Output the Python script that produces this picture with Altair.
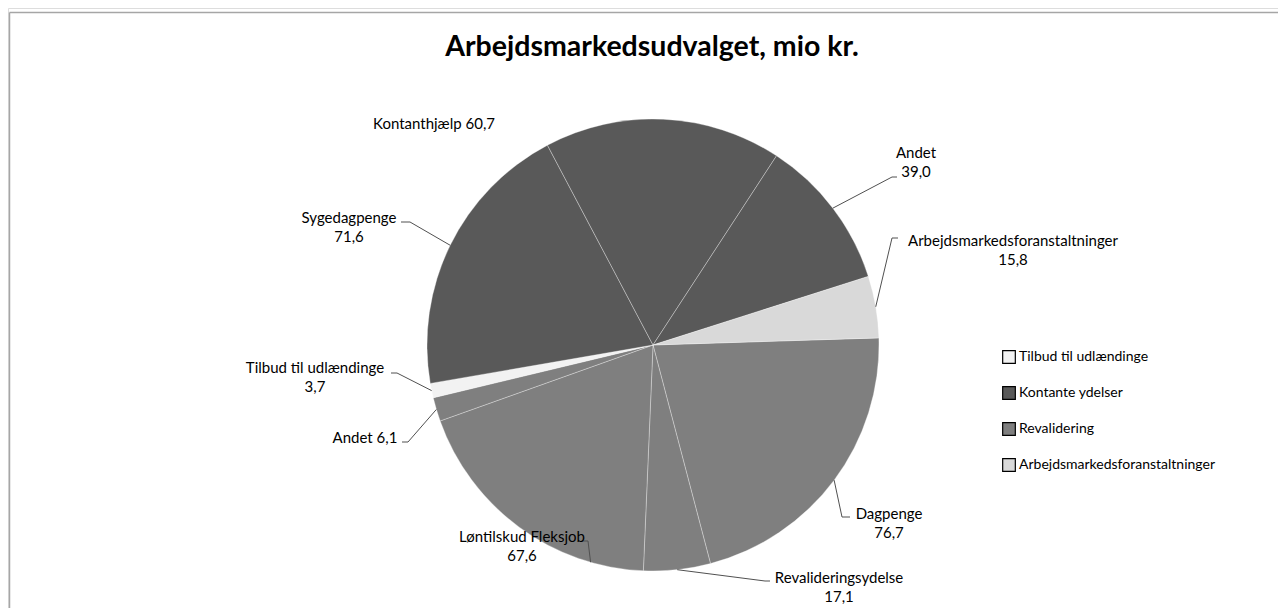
import math
import altair as alt
import pandas as pd

# ---------------- data ----------------
slice_ids = ["dagpenge", "revalid", "lontilskud", "andet_rev", "tilbud",
             "sygedagpenge", "kontanthjaelp", "andet_kont", "arbejds"]
names = ["Dagpenge", "Revalideringsydelse", "Løntilskud Fleksjob", "Andet",
         "Tilbud til udlændinge", "Sygedagpenge", "Kontanthjælp", "Andet",
         "Arbejdsmarkedsforanstaltninger"]
values = [76.7, 17.1, 67.6, 6.1, 3.7, 71.6, 60.7, 39.0, 15.8]
groups = ["Revalidering", "Revalidering", "Revalidering", "Revalidering",
          "Tilbud til udlændinge", "Kontante ydelser", "Kontante ydelser",
          "Kontante ydelser", "Arbejdsmarkedsforanstaltninger"]

legend_order = ["Tilbud til udlændinge", "Kontante ydelser", "Revalidering",
                "Arbejdsmarkedsforanstaltninger"]
legend_colors = ["#f2f2f2", "#595959", "#7f7f7f", "#d9d9d9"]

TITLE = "Arbejdsmarkedsudvalget, mio kr."

# ---------------- layout ----------------
OFF = 8                      # page margin
CX, CY, R = 653 - OFF, 345 - OFF, 226
START = math.radians(88.2)   # angle where the first slice begins (clockwise from 12 o'clock)
FONT = "Lato"

# label layout in page pixels: text centre x, first-line centre y, two lines?,
# where on the slice edge the leader attaches (fraction of the slice), leader elbow/end
label_layout = {
    "dagpenge":      dict(x=889, y=514, two=True,  at=0.5,  leader=[(842, 517), (850, 517)]),
    "revalid":       dict(x=839, y=578, two=True,  at=0.5,  leader=[(765, 581), (770, 581)]),
    "lontilskud":    dict(x=522, y=537, two=True,  at=0.2,  leader=[(588, 541), (582, 541)]),
    "andet_rev":     dict(x=365, y=438, two=False, at=0.5,  leader=[(408, 442), (402, 442)]),
    "tilbud":        dict(x=315, y=368, two=True,  at=0.5,  leader=[(397, 373), (391, 373)]),
    "sygedagpenge":  dict(x=349, y=218, two=True,  at=0.5,  leader=[(410, 222), (401, 222)]),
    "kontanthjaelp": dict(x=434, y=124, two=False, at=0.5,  leader=None),
    "andet_kont":    dict(x=916, y=153, two=True,  at=0.5,  leader=[(892, 177), (897, 177)]),
    "arbejds":       dict(x=1013, y=241, two=True, at=0.5,  leader=[(892, 238), (898, 238)]),
}
LH = 19

def fmt(v):
    return f"{v:.1f}".replace(".", ",")

df = pd.DataFrame({"sid": slice_ids, "name": names, "value": values,
                   "group": groups, "idx": list(range(len(values)))})

total = sum(values)
cum = 0.0
text_rows, leader_rows = [], []
for sid, nm, v in zip(slice_ids, names, values):
    lay = label_layout[sid]
    ang = START + 2 * math.pi * (cum + v * lay["at"]) / total
    cum += v
    label = f"{nm}\n{fmt(v)}" if lay["two"] else f"{nm} {fmt(v)}"
    text_rows.append({"sid": sid, "label": label, "px": lay["x"] - OFF,
                      "py": lay["y"] - OFF})
    if lay["leader"]:
        sx = CX + R * math.sin(ang)
        sy = CY - R * math.cos(ang)
        pts = [(sx, sy)] + [(px - OFF, py - OFF) for px, py in lay["leader"]]
        for k, (px, py) in enumerate(pts):
            leader_rows.append({"sid": sid, "k": k, "px": px, "py": py})

text_df = pd.DataFrame(text_rows)
leader_df = pd.DataFrame(leader_rows)

# ---------------- chart ----------------
pie = alt.Chart(df).mark_arc(outerRadius=R, stroke="#ffffff", strokeWidth=0.8,
                             strokeOpacity=0.4).encode(
    theta=alt.Theta("value:Q", stack=True,
                    scale=alt.Scale(range=[START, START + 2 * math.pi])),
    color=alt.Color("group:N",
                    scale=alt.Scale(domain=legend_order, range=legend_colors),
                    legend=alt.Legend(title=None, orient="none",
                                      legendX=994, legendY=342,
                                      symbolType="square", symbolSize=160,
                                      symbolStrokeColor="black",
                                      symbolStrokeWidth=1.2,
                                      symbolOpacity=1,
                                      labelFont=FONT, labelFontSize=14,
                                      labelColor="black", labelOffset=3,
                                      labelLimit=0,
                                      rowPadding=18)),
    order=alt.Order("idx:Q"),
    x=alt.value(CX),
    y=alt.value(CY),
)

leaders = alt.Chart(leader_df).mark_line(color="#505050", strokeWidth=1).encode(
    x=alt.X("px:Q", scale=None, axis=None),
    y=alt.Y("py:Q", scale=None, axis=None),
    detail="sid:N",
    order="k:Q",
)

labels = alt.Chart(text_df).mark_text(font=FONT, fontSize=15, lineBreak="\n",
                                      lineHeight=LH, color="black",
                                      align="center", baseline="middle").encode(
    x=alt.X("px:Q", scale=None, axis=None),
    y=alt.Y("py:Q", scale=None, axis=None),
    text="label:N",
)

title = alt.Chart(pd.DataFrame({"t": [TITLE]})).mark_text(
    font=FONT, fontSize=28.5, fontWeight="bold", color="black",
    align="center", baseline="alphabetic").encode(
    text="t:N", x=alt.value(652 - OFF), y=alt.value(56 - OFF))

frame_top = alt.Chart(pd.DataFrame({"a": [0]})).mark_rule(
    color="#a6a6a6", strokeWidth=1.5).encode(
    x=alt.value(9.5 - OFF), x2=alt.value(1290), y=alt.value(12.5 - OFF))
frame_left = alt.Chart(pd.DataFrame({"a": [0]})).mark_rule(
    color="#a6a6a6", strokeWidth=1.5).encode(
    x=alt.value(9.5 - OFF), y=alt.value(12.5 - OFF), y2=alt.value(640))

chart = alt.layer(frame_top, frame_left, pie, leaders, labels, title).properties(
    width=1270, height=600,
    autosize=alt.AutoSizeParams(type="none"),
    padding=0,
).configure_view(stroke=None).configure(background="white")

chart.save("out.html", embed_options={"renderer": "svg", "actions": False})
